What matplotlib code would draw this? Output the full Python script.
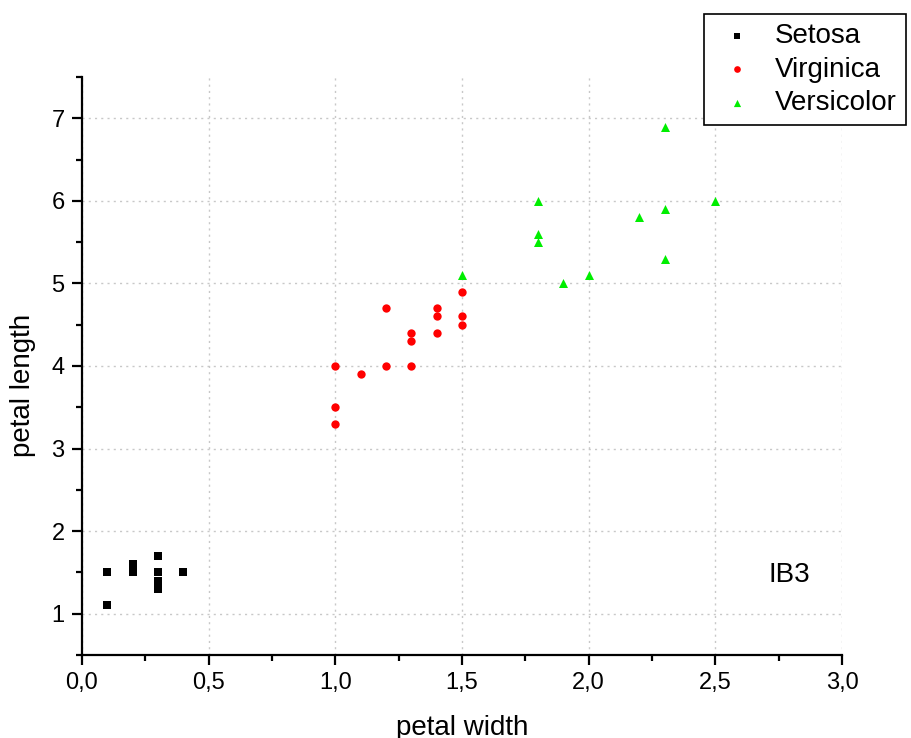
import matplotlib
matplotlib.use("Agg")
import matplotlib.pyplot as plt
from matplotlib.ticker import MultipleLocator, FuncFormatter

plt.rcParams['font.family'] = ['Liberation Sans', 'DejaVu Sans']

# petal width / petal length per class
setosa_w = [0.1, 0.1, 0.2, 0.2, 0.3, 0.3, 0.3, 0.3, 0.4]
setosa_l = [1.5, 1.1, 1.6, 1.5, 1.7, 1.5, 1.4, 1.3, 1.5]

virginica_w = [1.0, 1.0, 1.0, 1.1, 1.2, 1.2, 1.3, 1.3, 1.3, 1.4, 1.4, 1.4, 1.5, 1.5, 1.5]
virginica_l = [4.0, 3.5, 3.3, 3.9, 4.7, 4.0, 4.4, 4.3, 4.0, 4.7, 4.6, 4.4, 4.9, 4.6, 4.5]

versicolor_w = [1.5, 1.8, 1.8, 1.8, 1.9, 2.0, 2.2, 2.3, 2.3, 2.3, 2.5]
versicolor_l = [5.1, 6.0, 5.6, 5.5, 5.0, 5.1, 5.8, 6.9, 5.9, 5.3, 6.0]

fig = plt.figure(figsize=(9.11, 7.38), dpi=100)
ax = fig.add_axes([82/911, 1 - 655/738, (842 - 82)/911, (655 - 77)/738])

ax.scatter(setosa_w, setosa_l, marker='s', s=30, color='black', linewidths=0, label='Setosa', zorder=3)
ax.scatter(virginica_w, virginica_l, marker='o', s=36, color='#ff0000', linewidths=0, label='Virginica', zorder=3)
ax.scatter(versicolor_w, versicolor_l, marker='^', s=42, color='#00ee00', linewidths=0, label='Versicolor', zorder=3)

ax.set_xlim(0, 3.0)
ax.set_ylim(0.5, 7.5)
ax.xaxis.set_major_locator(MultipleLocator(0.5))
ax.xaxis.set_minor_locator(MultipleLocator(0.25))
ax.yaxis.set_major_locator(MultipleLocator(1))
ax.yaxis.set_minor_locator(MultipleLocator(0.5))
ax.xaxis.set_major_formatter(FuncFormatter(lambda v, p: f"{v:.1f}".replace('.', ',')))
ax.yaxis.set_major_formatter(FuncFormatter(lambda v, p: f"{v:.0f}"))

for side in ['top', 'right']:
    ax.spines[side].set_visible(False)
for side in ['left', 'bottom']:
    ax.spines[side].set_linewidth(1.6)

ax.tick_params(which='major', direction='out', length=7.5, width=1.6, labelsize=17, pad=5)
ax.tick_params(which='minor', direction='out', length=4, width=1.6)

ax.grid(True, which='major', linestyle=(0, (1.5, 3)), color='#c8c8c8', linewidth=1.0)
ax.set_axisbelow(True)

ax.set_xlabel('petal width', fontsize=20, labelpad=15)
ax.set_ylabel('petal length', fontsize=20)
ax.yaxis.set_label_coords(-0.06, 0.467)

ax.text(0.958, 0.139, 'IB3', transform=ax.transAxes, fontsize=20, ha='right', va='center')

leg = fig.legend(loc='upper right', bbox_to_anchor=(906/911, 1 - 14/738), fontsize=20,
                 frameon=True, fancybox=False, edgecolor='black', framealpha=1,
                 handletextpad=0.48, borderpad=0.32, labelspacing=0.28, handlelength=1.78,
                 borderaxespad=0, markerscale=0.8)
leg.get_frame().set_linewidth(1.2)

fig.savefig('out.png', dpi=100)
